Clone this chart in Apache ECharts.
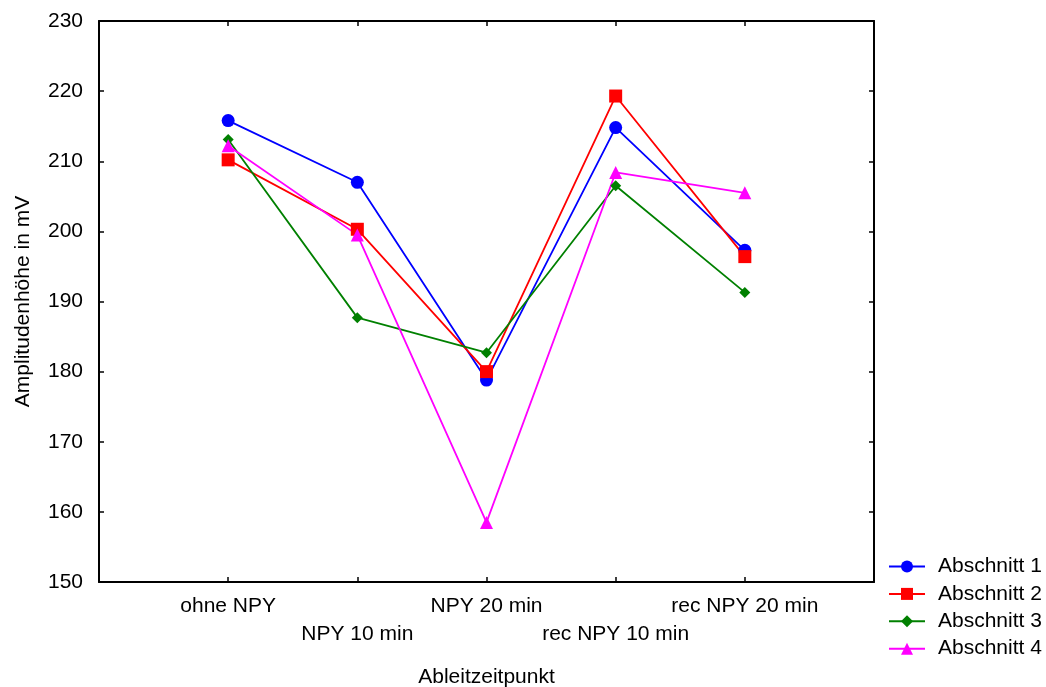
<!DOCTYPE html>
<html>
<head>
<meta charset="utf-8">
<script src="https://cdn.jsdelivr.net/npm/echarts@6/dist/echarts.min.js"></script>
<style>
  html, body { margin: 0; padding: 0; background: #fff; }
  #chart { width: 1046px; height: 687px; }
</style>
</head>
<body>
<div id="chart"></div>
<script>
// Measurement time points (padded with empty slots at both ends of the axis)
const categories = ['', 'ohne NPY', 'NPY 10 min', 'NPY 20 min', 'rec NPY 10 min', 'rec NPY 20 min', ''];

// Amplitude in mV per section
const abschnitt1 = [215.8, 207.0, 178.8, 214.8, 197.3];
const abschnitt2 = [210.2, 200.3, 180.0, 219.3, 196.4];
const abschnitt3 = [213.1, 187.7, 182.7, 206.5, 191.3];
const abschnitt4 = [212.2, 199.5, 158.5, 208.4, 205.5];

const seriesNames = ['Abschnitt 1', 'Abschnitt 2', 'Abschnitt 3', 'Abschnitt 4'];
const seriesColors = ['#0000ff', '#ff0000', '#008000', '#ff00ff'];
const seriesSymbols = ['circle', 'rect', 'diamond', 'triangle'];
const seriesSizes = [13, 13, 11, 13];
const seriesData = [abschnitt1, abschnitt2, abschnitt3, abschnitt4];

const FONT = '"Liberation Sans", Arial, sans-serif';
const FS = 21;

const chart = echarts.init(document.getElementById('chart'), null, { renderer: 'canvas' });

const axisLine = { show: true, lineStyle: { color: '#000', width: 2 } };
const innerTick = { show: true, inside: true, length: 5, lineStyle: { color: '#000', width: 1.5 } };

const series = seriesData.map((vals, i) => ({
  name: seriesNames[i],
  type: 'line',
  data: [null].concat(vals).concat([null]),
  symbol: seriesSymbols[i],
  symbolSize: seriesSizes[i],
  showAllSymbol: true,
  connectNulls: false,
  lineStyle: { color: seriesColors[i], width: 1.8 },
  itemStyle: { color: seriesColors[i] },
  animation: false
}));

chart.setOption({
  backgroundColor: '#fff',
  animation: false,
  grid: { left: 99, right: 172, top: 21, bottom: 105, containLabel: false, outerBoundsMode: 'none' },
  legend: {
    orient: 'vertical',
    left: 883,
    top: 551,
    itemWidth: 36,
    itemHeight: 15,
    itemGap: 6.4,
    textStyle: { fontFamily: FONT, fontSize: FS, color: '#000', lineHeight: 21, padding: [0, 0, 0, 8] },
    data: seriesNames
  },
  xAxis: [
    {
      type: 'category',
      data: categories,
      boundaryGap: false,
      position: 'bottom',
      axisLine: axisLine,
      axisTick: innerTick,
      axisLabel: {
        interval: 0,
        margin: 10,
        fontFamily: FONT,
        fontSize: FS,
        color: '#000',
        lineHeight: 28,
        formatter: function (v, idx) { return (idx % 2 === 0) ? '\n' + v : v; }
      },
      splitLine: { show: false },
      name: 'Ableitzeitpunkt',
      nameLocation: 'middle',
      nameGap: 85,
      nameTextStyle: { fontFamily: FONT, fontSize: FS, color: '#000' }
    },
    {
      type: 'category',
      data: categories,
      boundaryGap: false,
      position: 'top',
      axisLine: axisLine,
      axisTick: innerTick,
      axisLabel: { show: false },
      splitLine: { show: false }
    }
  ],
  yAxis: [
    {
      type: 'value',
      min: 150,
      max: 230,
      interval: 10,
      position: 'left',
      axisLine: axisLine,
      axisTick: innerTick,
      axisLabel: { margin: 16, fontFamily: FONT, fontSize: FS, color: '#000' },
      splitLine: { show: false },
      name: 'Amplitudenhöhe in mV',
      nameLocation: 'middle',
      nameRotate: 90,
      nameGap: 65,
      nameTextStyle: { fontFamily: FONT, fontSize: FS, color: '#000' }
    },
    {
      type: 'value',
      min: 150,
      max: 230,
      interval: 10,
      position: 'right',
      axisLine: axisLine,
      axisTick: innerTick,
      axisLabel: { show: false },
      splitLine: { show: false }
    }
  ],
  series: series
});
</script>
</body>
</html>
